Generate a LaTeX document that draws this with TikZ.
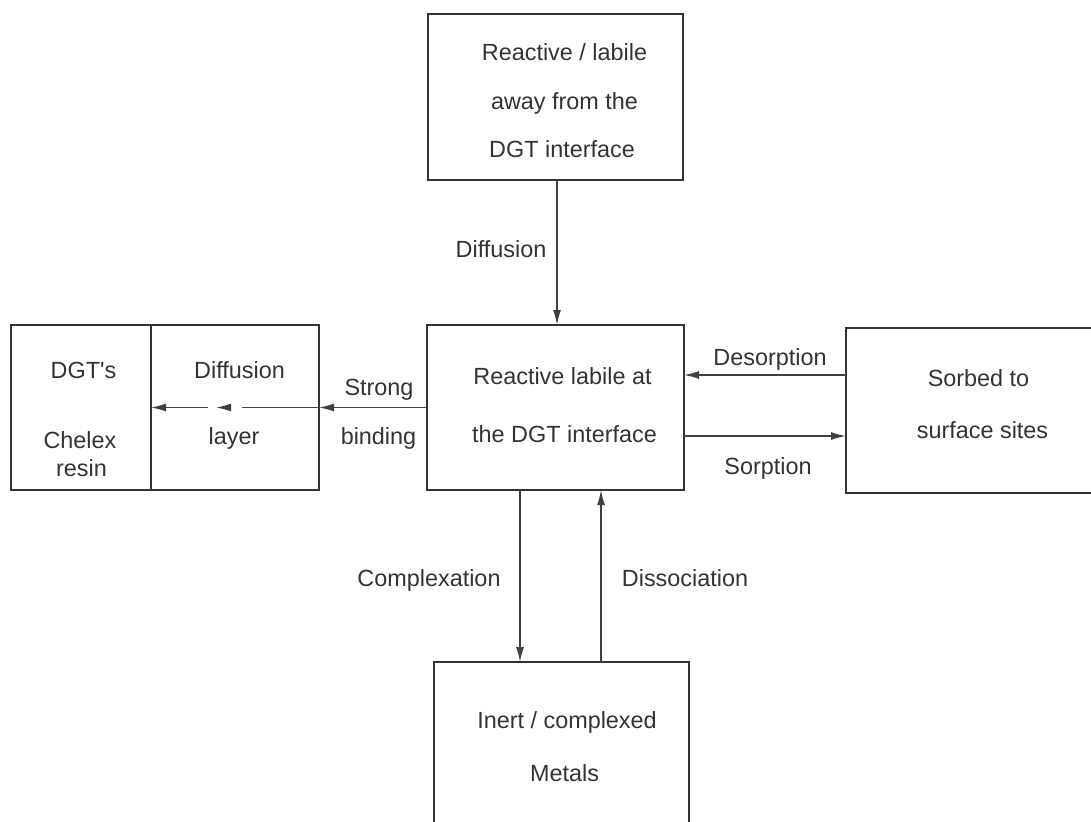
\documentclass[tikz,border=0pt]{standalone}
\usepackage{fontspec}
\setmainfont{Liberation Sans}
\usetikzlibrary{arrows.meta, decorations.markings}

\begin{document}
\begin{tikzpicture}[x=0.5pt, y=-0.5pt,
    box/.style={draw=black!80, line width=1pt, inner sep=0pt, outer sep=0pt},
    txt/.style={text=black!80, font=\fontsize{11.7}{14}\selectfont, inner sep=0pt, text height=8.4pt, text depth=0pt},
    flow/.style={draw=black!75, line width=0.7pt, -{Latex[length=7.5pt, width=4pt]}}]
    \useasboundingbox (0,0) rectangle (1091,821);
    \clip (0,0) rectangle (1091,821);

    %Boxes
    \node[box, minimum width=127.5pt, minimum height=83pt] at (555.5, 97) (top) {};
    \node[box, minimum width=128.5pt, minimum height=82.5pt] at (555.5, 407.5) (core) {};
    \node[box, minimum width=132pt, minimum height=82.5pt] at (978, 410.5) (sorbed) {};
    \node[box, minimum width=70pt, minimum height=82.5pt] at (81, 407.5) (chelex) {};
    \node[box, minimum width=84pt, minimum height=82.5pt] at (235, 407.5) (layer) {};
    \node[box, minimum width=127.5pt, minimum height=100pt] at (561.5, 762) (inert) {};

    %Box texts
    \node[txt] at (564.5, 52) (top1) {Reactive / labile};
    \node[txt] at (564.5, 101) (top2) {away from the};
    \node[txt] at (562, 149) (top3) {DGT interface};
    \node[txt] at (562.5, 376) (core1) {Reactive labile at};
    \node[txt] at (564.5, 434) (core2) {the DGT interface};
    \node[txt] at (978.5, 378) (sorbed1) {Sorbed to};
    \node[txt] at (982.5, 430) (sorbed2) {surface sites};
    \node[txt] at (83.5, 370) (chelex1) {DGT\textquotesingle s};
    \node[txt] at (80, 440) (chelex2) {Chelex};
    \node[txt] at (81.5, 468) (chelex3) {resin};
    \node[txt] at (239.5, 370) (layer1) {Diffusion};
    \node[txt] at (234, 436) (layer2) {layer};
    \node[txt] at (567, 720) (inert1) {Inert / complexed};
    \node[txt] at (564.5, 773) (inert2) {Metals};

    %Guides
    \coordinate (xdif) at (557, 0);
    \coordinate (xcom) at (520, 0);
    \coordinate (xdis) at (601, 0);
    \coordinate (ydes) at (0, 375);
    \coordinate (ysor) at (0, 436);

    %Lines
    \draw[flow] (top.south -| xdif) -- (core.north -| xdif);
    \draw[flow] (core.west) -- (layer.east);
    \draw[flow, dash pattern=on 38.5pt off 17pt on 40pt, postaction={decorate},
        decoration={markings, mark=at position 0.613 with {\arrow{Latex[length=7.5pt, width=4pt]}}}]
        (layer.east) -- (chelex.east);
    \draw[flow] (sorbed.west |- ydes) -- (core.east |- ydes);
    \draw[flow] (core.east |- ysor) -- (sorbed.west |- ysor);
    \draw[flow] (core.south -| xcom) -- (inert.north -| xcom);
    \draw[flow] (inert.north -| xdis) -- (core.south -| xdis);

    %Labels
    \node[txt] at (501, 249) (ldif) {Diffusion};
    \node[txt] at (379, 387) (lstr) {Strong};
    \node[txt] at (378.5, 436) (lbin) {binding};
    \node[txt] at (770, 357) (ldes) {Desorption};
    \node[txt] at (768, 466) (lsor) {Sorption};
    \node[txt] at (429, 578) (lcom) {Complexation};
    \node[txt] at (685, 578) (ldis) {Dissociation};
\end{tikzpicture}
\end{document}
